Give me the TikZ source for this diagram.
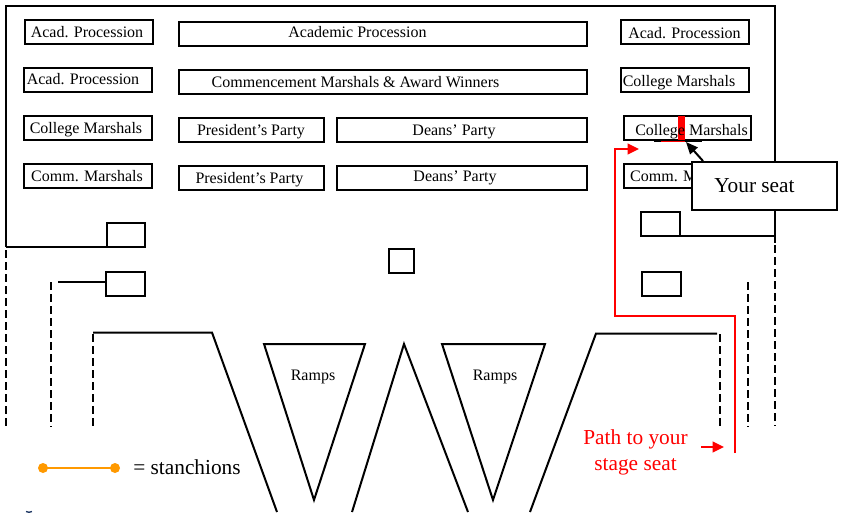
\documentclass[tikz,border=0pt]{standalone}
\usepackage{fontspec}
\setmainfont{Liberation Serif}
\usetikzlibrary{arrows.meta}
\definecolor{stanch}{RGB}{255,153,0}
\definecolor{spot}{RGB}{31,56,100}
\tikzset{
 x=0.75pt,y=-0.75pt,
 boxstyle/.style={draw=black,line width=1.5pt,fill=white,inner sep=0pt,outer sep=0pt},
 seatlabel/.style={inner sep=0pt,anchor=base,text=black,font=\fontsize{12}{14}\selectfont},
 wall/.style={draw=black,line width=1.5pt},
 dashwall/.style={draw=black,line width=1.5pt,dash pattern=on 6pt off 3pt},
 redpath/.style={draw=red,line width=1.5pt},
 redtip/.style={-{Triangle[length=8.5pt,width=8pt]}},
 redtext/.style={inner sep=0pt,anchor=base,text=red,font=\fontsize{16}{18}\selectfont},
 bigtext/.style={inner sep=0pt,anchor=base,text=black,font=\fontsize{16}{18}\selectfont},
 smalltext/.style={inner sep=0pt,anchor=base,text=black,font=\fontsize{12}{14}\selectfont},
}
% #1 name, #2 x1, #3 y1, #4 x2, #5 y2
\newcommand{\seatrect}[5]{\node[boxstyle,minimum width={(#4-#2)*0.75pt},minimum height={(#5-#3)*0.75pt}] (#1) at ({(#2+#4)/2},{(#3+#5)/2}) {};}
% #1 name, #2 x centre, #3 baseline, #4 text
\newcommand{\seattext}[4]{\node[seatlabel] (#1) at (#2,#3) {#4};}
\begin{document}
\begin{tikzpicture}
\useasboundingbox (0,0) rectangle (843,512);
\clip (0,0) rectangle (843,512);
\fill[white] (0,0) rectangle (843,512);

% outer walls
\draw[wall] (5.5,247) -- (5.5,5.5) -- (775,5.5) -- (775,243);
\draw[wall] (5.5,247) -- (107,247);
\draw[wall] (58,281.5) -- (106,281.5);
\draw[wall] (680,235.5) -- (775,235.5);

% dashed edges
\draw[dashwall] (5.5,250) -- (5.5,426);
\draw[dashwall] (51,282) -- (51,427);
\draw[dashwall] (92.7,334) -- (92.7,427);
\draw[dashwall] (719.5,334) -- (719.5,427);
\draw[dashwall] (747.5,282) -- (747.5,427);
\draw[dashwall] (775,245) -- (775,426);

% floor lines
\draw[wall] (93,332.5) -- (212,332.5) -- (277,512);
\draw[wall] (717,333.5) -- (596,333.5) -- (530,512);
\draw[wall] (352,512) -- (404,344) -- (468,512);

% ramps
\draw[wall] (264,344) -- (365,344) -- (314,500) -- cycle;
\draw[wall] (442,344) -- (545,344) -- (493,500) -- cycle;
\node[smalltext] (rampa) at (313,380) {Ramps};
\node[smalltext] (rampb) at (495,380) {Ramps};

% left column
\seatrect{a1}{25}{20}{153}{44}
\seattext{a1t}{87}{37}{Acad. Procession}
\seatrect{a2}{23.5}{68}{152}{92}
\seattext{a2t}{83}{84}{Acad. Procession}
\seatrect{a3}{23.5}{115.5}{152}{140}
\seattext{a3t}{86}{133}{College Marshals}
\seatrect{a4}{23.5}{163.5}{152}{188}
\seattext{a4t}{87}{181}{Comm. Marshals}

% centre
\seatrect{b1}{179}{21.5}{587}{46}
\seattext{b1t}{357.5}{37}{Academic Procession}
\seatrect{b2}{179}{69.5}{587}{94}
\seattext{b2t}{355.5}{87}{Commencement Marshals \& Award Winners}
\seatrect{c1}{179}{117.5}{323.5}{142}
\seattext{c1t}{251}{135}{President’s Party}
\seatrect{c2}{179}{165.5}{323.5}{190}
\seattext{c2t}{249.5}{183}{President’s Party}
\seatrect{d1}{337}{117.5}{587}{142}
\seattext{d1t}{454}{135}{Deans’ Party}
\seatrect{d2}{337}{165.5}{587}{190}
\seattext{d2t}{455}{181}{Deans’ Party}

% right column
\seatrect{e1}{621}{20}{749}{44}
\seattext{e1t}{684.5}{38}{Acad. Procession}
\seatrect{e2}{621}{68}{749}{92}
\seattext{e2t}{679}{86}{College Marshals}
\seatrect{e3}{624}{116}{751}{140}
\fill[red] (678,116) rectangle (685,140);
\seattext{e3t}{691.5}{135}{College Marshals}
\draw[black,line width=0.6pt] (654,141) -- (702,141);
\draw[red,line width=0.6pt] (661,141) -- (685,141);
\seatrect{e4}{624}{163.5}{752}{188}
\seattext{e4t}{686}{181}{Comm. Marshals}

% stanchion boxes
\seatrect{s1}{107}{223}{145}{247}
\seatrect{s2}{106}{271.5}{144.5}{296}
\seatrect{s3}{641}{212}{680}{236}
\seatrect{s4}{642}{271.5}{681}{296}
\seatrect{s5}{389}{249}{414}{273}

% path to seat
\coordinate (pathstart) at (735,453);
\coordinate (pathend) at (639,149);
\draw[redpath,redtip] (pathstart) -- (735,316) -- (615,316) -- (615,149) -- (pathend);
\coordinate (hintstart) at (701,447);
\coordinate (hintend) at (724,447);
\draw[redpath,redtip] (hintstart) -- (hintend);
\node[redtext] (pathone) at (635.5,444) {Path to your};
\node[redtext] (pathtwo) at (635.5,470) {stage seat};

% callout
\node[boxstyle,minimum width={145*0.75pt},minimum height={48*0.75pt}] (seatcall) at (764.5,185.5) {};
\node[bigtext] (seattxt) at (754.5,192) {Your seat};
\coordinate (seatmark) at (686,142);
\coordinate (calltail) at (703,161);
\draw[black,line width=1.5pt,-{Triangle[length=9pt,width=7.5pt]}] (calltail) -- (seatmark);

% legend
\coordinate (stana) at (43,468);
\coordinate (stanb) at (115,468);
\draw[stanch,line width=1.5pt] (stana) -- (stanb);
\fill[stanch] (stana) circle (5);
\fill[stanch] (stanb) circle (5);
\node[bigtext,anchor=base west] (stantxt) at (133,474) {= stanchions};

% speck at the lower edge
\draw[spot,line width=1pt] (26,511.5) arc[start angle=120,end angle=60,radius=6];
\end{tikzpicture}
\end{document}
